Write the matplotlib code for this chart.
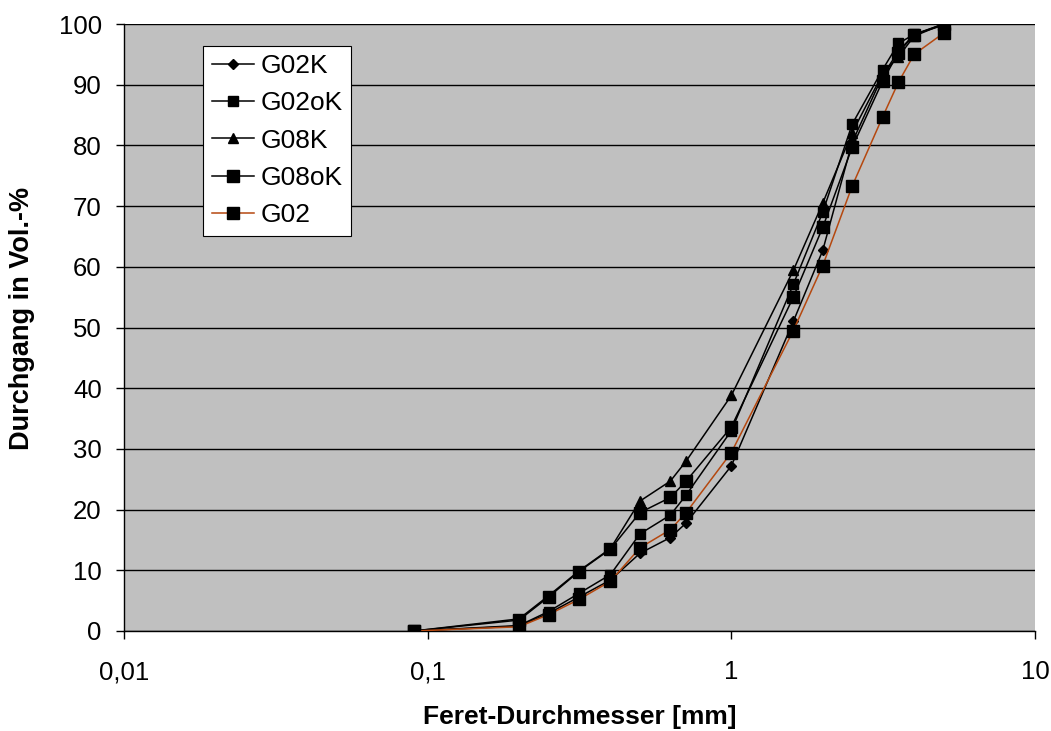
import matplotlib
matplotlib.use("Agg")
import matplotlib.pyplot as plt
from matplotlib.ticker import FixedLocator, FuncFormatter, NullLocator

# sieve sizes (Feret diameter, mm)
x_mm = [0.09, 0.2, 0.25, 0.315, 0.4, 0.5, 0.63, 0.71, 1, 1.6, 2, 2.5, 3.15, 3.55, 4, 5]

# passing in vol.-%
g02k = [0, 0.8, 2.9, 5.6, 8.4, 12.8, 15.4, 17.8, 27.2, 51.0, 62.7, 80.5, 91.5, 95.5, 98.3, 99.8]
g02ok = [0, 0.9, 3.2, 6.2, 9.3, 16.0, 19.1, 22.4, 33.0, 57.1, 69.0, 83.5, 92.5, 96.8, 98.3, 100]
g08k = [0, 2.0, 5.8, 9.9, 13.6, 21.4, 24.7, 28.0, 38.8, 59.4, 70.5, 82.1, 91.8, 94.6, 98.0, 100]
g08ok = [0, 1.8, 5.6, 9.8, 13.5, 19.5, 22.0, 24.7, 33.6, 55.0, 66.5, 79.7, 90.6, 95.3, 98.2, 100]
g02 = [0, 0.7, 2.7, 5.2, 8.2, 13.7, 16.7, 19.5, 29.4, 49.5, 60.2, 73.3, 84.7, 90.4, 95.0, 98.5]

x_ticks = [0.01, 0.1, 1, 10]
y_ticks = list(range(0, 101, 10))

plt.rcParams['font.family'] = ['Liberation Sans', 'DejaVu Sans']

fig = plt.figure(figsize=(10.51, 7.31), dpi=100)
ax = fig.add_axes([124/1051, (731-631)/731, (1035-124)/1051, (631-24)/731])
ax.set_facecolor('#C0C0C0')

#
ax.plot(x_mm, g02k, color='black', lw=1.1, marker='D', ms=5, label='G02K', zorder=3)
ax.plot(x_mm, g02ok, color='black', lw=1.1, marker='s', ms=6.5, label='G02oK', zorder=3)
ax.plot(x_mm, g08k, color='black', lw=1.1, marker='^', ms=7, label='G08K', zorder=3)
ax.plot(x_mm, g08ok, color='black', lw=1.1, marker='s', ms=8.5, label='G08oK', zorder=3)
ax.plot(x_mm, g02, color='#B5480F', lw=1.1, marker='s', ms=8.5,
        mfc='black', mec='black', label='G02', zorder=3)

ax.set_xscale('log')
ax.set_xlim(0.01, 10)
ax.set_ylim(0, 100)
ax.xaxis.set_major_locator(FixedLocator(x_ticks))
ax.xaxis.set_minor_locator(NullLocator())
ax.xaxis.set_major_formatter(FuncFormatter(lambda v, p: ('%g' % v).replace('.', ',')))
ax.set_yticks(y_ticks)

ax.yaxis.grid(True, color='black', lw=1.0)
ax.set_axisbelow(True)
for s in ['top', 'right']:
    ax.spines[s].set_visible(False)
ax.spines['left'].set_linewidth(1.0)
ax.spines['bottom'].set_linewidth(1.0)
ax.tick_params(axis='both', direction='out', length=6, width=1, labelsize=18.5)
ax.tick_params(axis='y', pad=10)
ax.tick_params(axis='x', pad=15)

ax.set_xlabel('Feret-Durchmesser [mm]', fontsize=19, fontweight='bold', labelpad=15)
ax.set_ylabel('Durchgang in Vol.-%', fontsize=19.5, fontweight='bold', labelpad=13)
ax.yaxis.set_label_coords(-0.098, 0.515)

leg = ax.legend(loc='upper left', bbox_to_anchor=(0.087, 0.964), borderaxespad=0,
                fontsize=19, numpoints=1, fancybox=False, framealpha=1,
                edgecolor='black', handlelength=1.6, handletextpad=0.25,
                labelspacing=0.5, borderpad=0.32)
leg.get_frame().set_linewidth(0.8)

fig.savefig('out.png', dpi=100)
